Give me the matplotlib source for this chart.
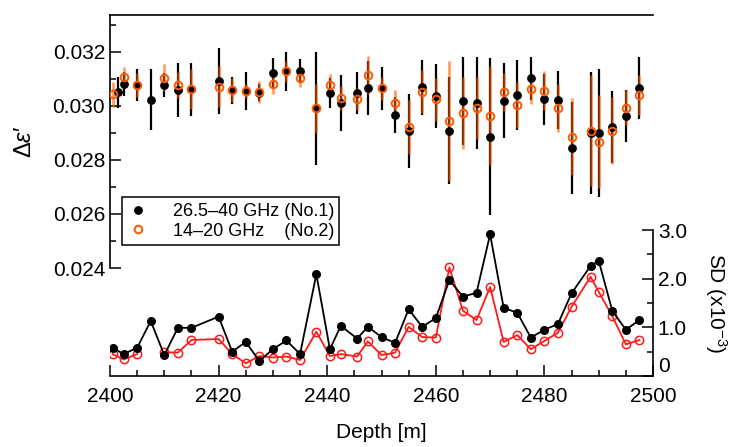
import numpy as np
import matplotlib
matplotlib.use('Agg')
import matplotlib.pyplot as plt
from matplotlib.ticker import MultipleLocator, FixedLocator

plt.rcParams['font.family'] = ['Liberation Sans', 'DejaVu Sans']
plt.rcParams['mathtext.fontset'] = 'custom'
plt.rcParams['mathtext.rm'] = 'Liberation Sans'
plt.rcParams['mathtext.it'] = 'Liberation Sans:italic'

# depth of each sample [m]
depth = [2400.5, 2402.5, 2405.0, 2407.5, 2410.0, 2412.5, 2415.0, 2420.0, 2422.5,
         2425.0, 2427.5, 2430.0, 2432.5, 2435.0, 2438.0, 2440.5, 2442.5, 2445.5,
         2447.5, 2450.0, 2452.5, 2455.0, 2457.5, 2460.0, 2462.5, 2465.0, 2467.5,
         2470.0, 2472.5, 2475.0, 2477.5, 2480.0, 2482.5, 2485.0, 2488.5, 2490.0,
         2492.5, 2495.0, 2497.5]
depth_mean_no1 = [2401.5] + depth[1:]

# mean delta eps'
mean_no1 = [0.03051, 0.03081, 0.03078, 0.03023, 0.03078, 0.03059, 0.03062, 0.03094,
            0.03059, 0.03057, 0.03049, 0.03121, 0.03128, 0.03130, 0.02992, 0.03049,
            0.03010, 0.03049, 0.03066, 0.03066, 0.02967, 0.02909, 0.03069, 0.03038,
            0.02909, 0.03020, 0.03012, 0.02886, 0.03020, 0.03041, 0.03103, 0.03025,
            0.03022, 0.02843, 0.02901, 0.02901, 0.02923, 0.02963, 0.03066]
mean_no2 = [0.03043, 0.03109, 0.03078, np.nan, 0.03105, 0.03078, 0.03062, 0.03071,
            0.03059, 0.03057, 0.03052, 0.03081, 0.03128, 0.03105, 0.02992, 0.03077,
            0.03029, 0.03026, 0.03115, 0.03066, 0.03010, 0.02923, 0.03053, 0.03025,
            0.02944, 0.02973, 0.02992, 0.02964, 0.03053, 0.03004, 0.03062, 0.03056,
            0.02994, 0.02886, 0.02909, 0.02868, 0.02909, 0.02994, 0.03041]

# standard deviation (x1e-3)
sd_no1 = [0.58, 0.45, 0.58, 1.13, 0.43, 0.99, 0.99, 1.22, 0.50, 0.70, 0.31, 0.55,
          0.73, 0.45, 2.09, 0.55, 1.03, 0.77, 1.01, 0.80, 0.68, 1.37, 1.01, 1.19,
          1.97, 1.63, 1.71, 2.91, 1.40, 1.30, 0.79, 0.95, 1.07, 1.70, 2.26, 2.37,
          1.34, 0.95, 1.15]
sd_no2 = [0.45, 0.34, 0.45, np.nan, 0.49, 0.48, 0.74, 0.76, 0.45, 0.26, 0.41, 0.38,
          0.40, 0.33, 0.91, 0.41, 0.45, 0.40, 0.71, 0.43, 0.48, 1.01, 0.80, 0.79,
          2.23, 1.34, 1.15, 1.83, 0.70, 0.84, 0.55, 0.72, 0.89, 1.42, 2.04, 1.73,
          1.23, 0.65, 0.74]

orange = '#ff5a00'
W, H = 740, 447
fig = plt.figure(figsize=(W / 100, H / 100), dpi=100)

# bottom panel: SD
axb = fig.add_axes([110 / W, (H - 376) / H, 543 / W, 146 / H])
# top panel: mean with error bars
axt = fig.add_axes([110 / W, (H - 268) / H, 543 / W, 253 / H])
axt.patch.set_visible(False)

err1 = np.array(sd_no1) * 1e-3
err2 = np.array(sd_no2) * 1e-3
axt.errorbar(depth_mean_no1, mean_no1, yerr=err1, fmt='none', ecolor='black',
             elinewidth=1.6, capsize=0, zorder=2)
axt.errorbar(depth, mean_no2, yerr=err2, fmt='none', ecolor=orange,
             elinewidth=1.8, capsize=0, alpha=0.65, zorder=3)
axt.plot(depth_mean_no1, mean_no1, 'o', color='black', ms=5.3, zorder=4,
         label='26.5\u201340 GHz (No.1)')
axt.plot(depth, mean_no2, 'o', mfc='none', mec=orange, mew=1.4, ms=5.5, zorder=5,
         label='14\u201320 GHz    (No.2)')

axt.set_xlim(2400, 2500)
axt.set_ylim(0.024, 0.03337)
axt.spines['right'].set_visible(False)
axt.spines['bottom'].set_visible(False)
axt.tick_params(axis='x', which='both', bottom=False, labelbottom=False)
axt.yaxis.set_major_locator(FixedLocator([0.024, 0.026, 0.028, 0.030, 0.032]))
axt.yaxis.set_minor_locator(FixedLocator([0.025, 0.027, 0.029, 0.031, 0.033]))
axt.yaxis.set_major_formatter(plt.FuncFormatter(lambda v, p: '%.3f' % v))
axt.tick_params(axis='y', which='major', direction='in', length=8, width=1.1, labelsize=15)
axt.tick_params(axis='y', which='minor', direction='in', length=4.5, width=1.1)
for s in ['left', 'top']:
    axt.spines[s].set_linewidth(1.2)
axt.set_ylabel("\u0394$\\varepsilon$\u2032", fontsize=17, labelpad=12)

leg = axt.legend(loc='lower left', bbox_to_anchor=(0.022, 0.091), borderaxespad=0,
                 fontsize=13, frameon=True, fancybox=False, edgecolor='black',
                 framealpha=1, handletextpad=1.3, handlelength=1.2,
                 borderpad=0.3, labelspacing=0.15)
leg.get_frame().set_linewidth(1.1)

axb.plot(depth, sd_no1, '-o', color='black', lw=1.3, ms=5.5, zorder=3)
axb.plot(depth, sd_no2, '-o', color='#ff1a1a', mfc='none', mec='#ff1a1a', mew=1.1,
         lw=1.3, ms=6, zorder=2)
axb.set_xlim(2400, 2500)
axb.set_ylim(0, 3.0)
axb.spines['left'].set_visible(False)
axb.spines['top'].set_visible(False)
for s in ['bottom', 'right']:
    axb.spines[s].set_linewidth(1.2)
axb.yaxis.tick_right()
axb.yaxis.set_label_position('right')
axb.yaxis.set_major_locator(FixedLocator([0, 1, 2, 3]))
axb.yaxis.set_minor_locator(MultipleLocator(0.5))
axb.yaxis.set_major_formatter(plt.FuncFormatter(lambda v, p: '0' if v == 0 else '%.1f' % v))
axb.xaxis.set_major_locator(MultipleLocator(20))
axb.xaxis.set_minor_locator(MultipleLocator(5))
axb.tick_params(axis='both', which='major', direction='in', length=8, width=1.1, labelsize=15)
axb.tick_params(axis='both', which='minor', direction='in', length=4.5, width=1.1)
axb.tick_params(axis='y', which='both', left=False, right=True)
axb.tick_params(axis='x', which='major', pad=8)
# lift the "0" label a little so it clears the 2500 label below it
for lab in axb.get_yticklabels():
    if lab.get_text() == '0':
        lab.set_va('bottom')
axb.set_xlabel('Depth [m]', fontsize=15, labelpad=12)
axb.set_ylabel(r'SD (x10$^{-3}$)', fontsize=15, rotation=270, labelpad=30)

fig.canvas.draw()
for lab in axb.get_yticklabels():
    if lab.get_text() == '0':
        lab.set_va('bottom')
fig.savefig('out.png', dpi=100)
